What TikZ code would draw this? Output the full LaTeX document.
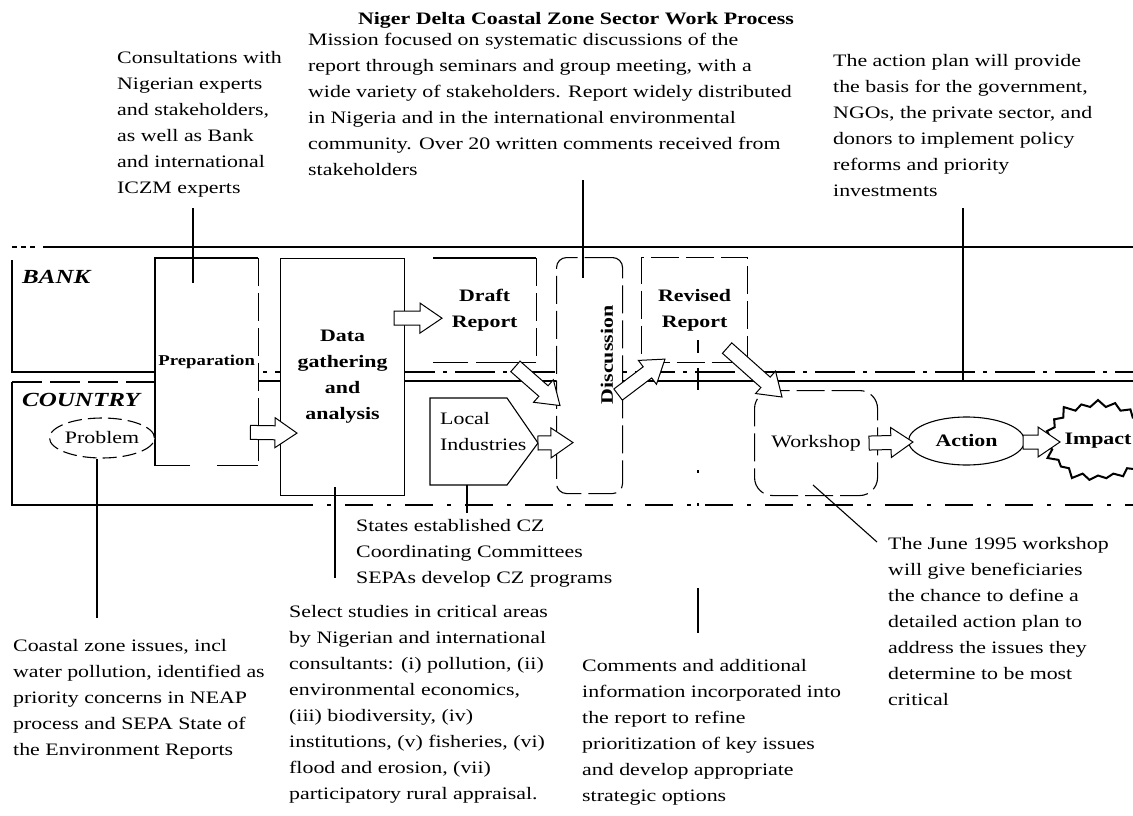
\documentclass[tikz,border=0pt]{standalone}
\usepackage{fontspec}
\setmainfont{Liberation Serif}[FakeStretch=1.25]
\usetikzlibrary{shapes.geometric,shapes.symbols,calc}
\newcommand{\txtsz}{\fontsize{17.5}{26}\selectfont}
\begin{document}
\begin{tikzpicture}[x=1pt,y=-1pt,
  lw/.style={line width=1.1pt},
  note/.style={anchor=north west, align=left, inner sep=0pt, font=\txtsz},
  box/.style={draw, fill=white, line width=1.1pt, inner sep=0pt, font=\txtsz\bfseries, align=center, anchor=north west},
  openbox/.style={fill=white, inner sep=0pt, font=\txtsz\bfseries, align=center, anchor=north west},
  dsh/.style={dash pattern=on 28pt off 7pt},
  lanelabel/.style={anchor=west, inner sep=0pt, font=\fontsize{20}{24}\selectfont\bfseries\itshape},
  blockarr/.style={draw, fill=white, line width=1pt, to path={
    let \p1=(\tikztostart), \p2=(\tikztotarget),
        \n1={atan2(\y2-\y1,\x2-\x1)}, \n2={veclen(\x2-\x1,\y2-\y1)-22}
    in ($(\p1)+(\n1+90:7pt)$) -- ($(\p1)+({\n1}:{\n2*1pt})+(\n1+90:7pt)$)
       -- ($(\p1)+({\n1}:{\n2*1pt})+(\n1+90:15pt)$) -- (\p2)
       -- ($(\p1)+({\n1}:{\n2*1pt})+(\n1-90:15pt)$)
       -- ($(\p1)+({\n1}:{\n2*1pt})+(\n1-90:7pt)$)
       -- ($(\p1)+(\n1-90:7pt)$) -- cycle}},
  conn/.style={line width=1.1pt}
]
\fill[white] (0,0) rectangle (1133,816);
\path[use as bounding box] (0,0) rectangle (1133,816);

% title
\node[inner sep=0pt, font=\txtsz\bfseries] (title) at (576,20) {Niger Delta Coastal Zone Sector Work Process};

% lanes
\draw[lw, dash pattern=on 5pt off 4pt] (12,247) -- (36,247);
\draw[lw] (43,247) -- (1133,247);
\draw[lw] (12,260) -- (12,372) -- (155,372);
\draw[lw, dash pattern=on 40pt off 8pt on 4pt off 8pt] (155,372) -- (1133,372);
\draw[lw, dash pattern=on 30pt off 8pt] (12,382) -- (155,382);
\draw[lw] (155,381) -- (1133,381);
\draw[lw] (12,382) -- (12,505) -- (285,505);
\draw[lw, dash pattern=on 28pt off 14pt on 4pt off 14pt] (285,505) -- (1133,505);
\node[lanelabel] (bank) at (22,277) {BANK};
\node[lanelabel] (country) at (22,400) {COUNTRY};

% process boxes
\node[openbox, minimum width=103pt, minimum height=207pt, font=\fontsize{15}{18}\selectfont\bfseries] (prep) at (155,258) {Preparation};
\draw[lw] (prep.north east) -- (prep.north west) -- (prep.south west) -- ($(prep.south west)+(35,0)$);
\draw[lw] ($(prep.south west)+(62,0)$) -- (prep.south east);
\draw[lw, dsh] (prep.north east) -- (prep.south east);
\node[box, minimum width=124pt, minimum height=237pt] (data) at (280,258) {Data\\gathering\\and\\analysis};
\node[openbox, minimum width=103pt, minimum height=104pt] (draft) at (433,258) {Draft\\Report};
\draw[lw] (draft.north west) -- (draft.north east);
\draw[lw, dsh] (draft.north east) -- (draft.south east);
\draw[lw, dash pattern=on 60pt off 8pt] (draft.south east) -- (draft.south west);
\node[box, dsh, rounded corners=10pt, minimum width=66pt, minimum height=236pt] (disc) at (556,257) {};
\node[font=\txtsz\bfseries, rotate=90, inner sep=0pt] (disctext) at (607,355) {Discussion};
\node[box, dsh, minimum width=106pt, minimum height=105pt] (revised) at (641,257) {Revised\\Report};
\draw[lw, fill=white] (430,398) -- (507,398) -- (538,443) -- (507,485) -- (430,485) -- cycle;
\node[font=\txtsz, align=left, anchor=west, inner sep=0pt] (local) at (440,432) {Local\\Industries};
\coordinate (localtip) at (538,443);
\node[box, dsh, rounded corners=18pt, minimum width=123pt, minimum height=105pt, font=\txtsz] (work) at (754,390) {Workshop};
\node[draw, lw, fill=white, ellipse, minimum width=116pt, minimum height=48pt, inner sep=0pt, font=\txtsz\bfseries] (action) at (966.5,441) {Action};
\node[draw, line width=2pt, fill=white, starburst, starburst points=19, starburst point height=9pt, minimum width=100pt, minimum height=87pt, inner sep=0pt, font=\txtsz\bfseries] (impact) at (1098,441) {Impact};
\node[draw, lw, dash pattern=on 14pt off 6pt, fill=white, ellipse, minimum width=105pt, minimum height=40pt, inner sep=0pt, font=\txtsz] (problem) at (102,438) {Problem};

% block arrows
\draw[blockarr] ($(prep.south east)+(-8,-33)$) to ($(data.south west)+(17,-63)$);
\draw[blockarr] ($(data.north east)+(-11,60)$) to ($(draft.west)+(9,8)$);
\draw[blockarr] ($(draft.south east)+(-21,4)$) to ($(disc.west)+(4,30)$);
\draw[blockarr] (localtip) to ($(disc.west)+(17,67)$);
\draw[blockarr] ($(disc.east)+(-5,19)$) to ($(revised.south west)+(24,-4)$);
\draw[blockarr] ($(revised.south east)+(-21,-15)$) to ($(work.north west)+(28,7)$);
\draw[blockarr] ($(work.east)+(-9,0)$) to ($(action.west)+(5,1)$);
\draw[blockarr] ($(action.east)+(-2,1)$) to ($(impact.center)+(-38,1)$);

% annotations
\node[note] (consult) at (117,51) {Consultations with\\Nigerian experts\\and stakeholders,\\as well as Bank\\and international\\ICZM experts};
\node[note] (mission) at (308,33) {Mission focused on systematic discussions of the\\report through seminars and group meeting, with a\\wide variety of stakeholders. Report widely distributed\\in Nigeria and in the international environmental\\community. Over 20 written comments received from\\stakeholders};
\node[note] (plan) at (833,54) {The action plan will provide\\the basis for the government,\\NGOs, the private sector, and\\donors to implement policy\\reforms and priority\\investments};
\node[note] (coastal) at (13,639) {Coastal zone issues, incl\\water pollution, identified as\\priority concerns in NEAP\\process and SEPA State of\\the Environment Reports};
\node[note] (select) at (289,605) {Select studies in critical areas\\by Nigerian and international\\consultants: (i) pollution, (ii)\\environmental economics,\\(iii) biodiversity, (iv)\\institutions, (v) fisheries, (vi)\\flood and erosion, (vii)\\participatory rural appraisal.};
\node[note] (states) at (356,519) {States established CZ\\Coordinating Committees\\SEPAs develop CZ programs};
\node[note] (comments) at (582,659) {Comments and additional\\information incorporated into\\the report to refine\\prioritization of key issues\\and develop appropriate\\strategic options};
\node[note] (wsnote) at (888,537) {The June 1995 workshop\\will give beneficiaries\\the chance to define a\\detailed action plan to\\address the issues they\\determine to be most\\critical};

% annotation connectors
\coordinate (c1a) at (193,208); \coordinate (c1b) at (193,283);
\draw[conn] (c1a) -- (c1b);
\coordinate (c2a) at (583,180); \coordinate (c2b) at (583,278);
\draw[conn] (c2a) -- (c2b);
\coordinate (c3a) at (963,208); \coordinate (c3b) at (963,382);
\draw[conn] (c3a) -- (c3b);
\coordinate (c4) at (97,618);
\draw[conn] (problem.south -| c4) -- (c4);
\coordinate (c5a) at (335,487); \coordinate (c5b) at (335,578);
\draw[conn] (c5a) -- (c5b);
\coordinate (c6a) at (467,485); \coordinate (c6b) at (467,513);
\draw[conn] (c6a) -- (c6b);
\coordinate (c7a) at (698,340); \coordinate (c7b) at (698,633);
\draw[conn, dash pattern=on 13pt off 15pt on 22pt off 80pt on 3pt off 30pt on 3pt off 82pt on 45pt off 100pt] (c7a) -- (c7b);
\coordinate (c8a) at (813,485); \coordinate (c8b) at (877,542);
\draw[conn] (c8a) -- (c8b);
\end{tikzpicture}
\end{document}
